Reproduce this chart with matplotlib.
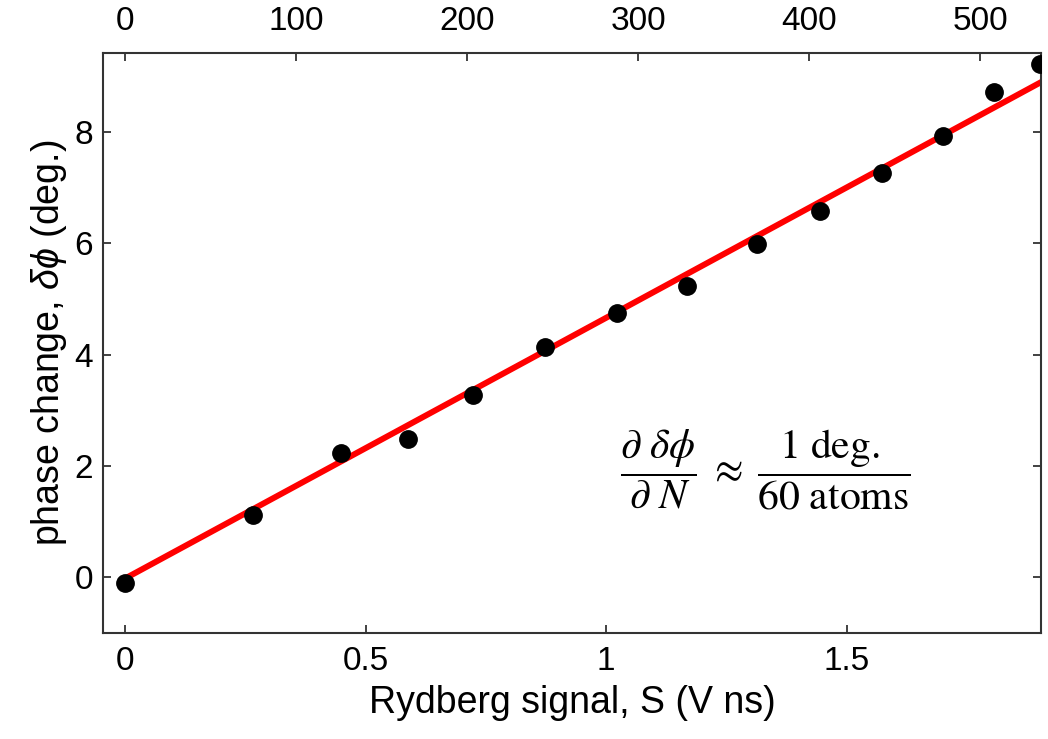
import numpy as np
import matplotlib
matplotlib.use("Agg")
import matplotlib.pyplot as plt

# data
signal = [0.0, 0.265, 0.448, 0.588, 0.724, 0.873, 1.022, 1.168, 1.313, 1.445, 1.573, 1.700, 1.807, 1.902]
phase = [-0.11, 1.12, 2.23, 2.49, 3.28, 4.14, 4.74, 5.23, 5.98, 6.58, 7.26, 7.92, 8.71, 9.22]
fit_slope = 4.68
fit_offset = -0.02
atoms_per_signal = 281.3

plt.rcParams['font.family'] = ['Liberation Sans', 'DejaVu Sans']
plt.rcParams['mathtext.fontset'] = 'custom'
plt.rcParams['mathtext.rm'] = 'Liberation Sans'
plt.rcParams['mathtext.it'] = 'Liberation Sans:italic'

fig = plt.figure(figsize=(10.48, 7.39), dpi=100)
ax = fig.add_axes([0.0983, 0.1434, 0.895, 0.7853])

xs = np.array([0.0, 1.904])
ax.plot(xs, fit_slope * xs + fit_offset, color='red', lw=4.3, zorder=2)
ax.plot(signal, phase, 'o', color='black', ms=12.5, zorder=3)

ax.set_xlim(-0.046, 1.904)
ax.set_ylim(-1.0, 9.42)
ax.set_xticks([0, 0.5, 1, 1.5])
ax.set_xticklabels(['0', '0.5', '1', '1.5'])
ax.set_yticks([0, 2, 4, 6, 8])

for s in ax.spines.values():
    s.set_color('#333333')
    s.set_linewidth(1.5)
ax.tick_params(direction='in', length=6, width=1.3, color='#333333',
               labelsize=24, right=True)
ax.tick_params(axis='x', pad=9)
ax.tick_params(axis='y', pad=7)

top = ax.secondary_xaxis('top', functions=(lambda s: s * atoms_per_signal,
                                           lambda n: n / atoms_per_signal))
top.set_xticks([0, 100, 200, 300, 400, 500])
top.tick_params(direction='in', length=6, width=1.3, color='#333333',
                labelsize=24, pad=11)
top.spines['top'].set_visible(False)

ax.set_xlabel('Rydberg signal, S (V ns)', fontsize=27, labelpad=6)
ax.set_ylabel(r'phase change, $\delta\phi$ (deg.)', fontsize=27, labelpad=4)

ax.text(0.706, 0.281,
        r'$\dfrac{\partial\ \delta\phi}{\partial\ N}\;\approx\;\dfrac{1\ \mathrm{deg.}}{60\ \mathrm{atoms}}$',
        transform=ax.transAxes, fontsize=30, math_fontfamily='stix',
        ha='center', va='center')

fig.savefig('out.png', dpi=100)
